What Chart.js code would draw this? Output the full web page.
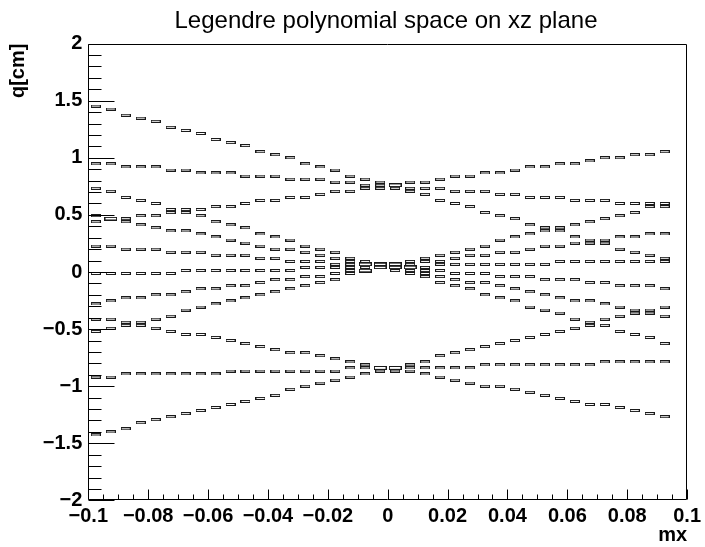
<!DOCTYPE html>
<html>
<head>
<meta charset="utf-8">
<script src="https://cdn.jsdelivr.net/npm/chart.js@4.4.1/dist/chart.umd.min.js"></script>
<style>
html,body{margin:0;padding:0;background:#fff;}
canvas{display:block;}
</style>
</head>
<body>
<canvas id="c" width="705" height="547" style="width:705px;height:547px"></canvas>
<script>
// ---- data (bin centers in mx, q value of each filled bin, one array per trace) ----
const mxBins = [-0.0975,-0.0925,-0.0875,-0.0825,-0.0775,-0.0725,-0.0675,-0.0625,-0.0575,-0.0525,
  -0.0475,-0.0425,-0.0375,-0.0325,-0.0275,-0.0225,-0.0175,-0.0125,-0.0075,-0.0025,
  0.0025,0.0075,0.0125,0.0175,0.0225,0.0275,0.0325,0.0375,0.0425,0.0475,
  0.0525,0.0575,0.0625,0.0675,0.0725,0.0775,0.0825,0.0875,0.0925];

const qA = [1.453,1.427,1.373,1.347,1.320,1.267,1.240,1.213,1.160,1.133,1.107,1.053,1.027,1.000,0.947,0.920,0.893,0.840,0.813,0.787,0.733,0.707,0.680,0.627,0.600,0.573,0.520,0.493,0.467,0.413,0.387,0.360,0.307,0.280,0.253,0.200,0.173,0.147,0.120];
const qB = [0.947,0.947,0.920,0.920,0.920,0.893,0.893,0.867,0.867,0.867,0.840,0.840,0.840,0.813,0.813,0.813,0.787,0.787,0.760,0.760,0.760,0.733,0.733,0.733,0.707,0.707,0.707,0.680,0.680,0.653,0.653,0.653,0.627,0.627,0.627,0.600,0.600,0.600,0.573];
const qD = [0.440,0.467,0.467,0.493,0.493,0.520,0.547,0.547,0.573,0.573,0.600,0.627,0.627,0.653,0.653,0.680,0.707,0.707,0.733,0.733,0.760,0.787,0.787,0.813,0.840,0.840,0.867,0.867,0.893,0.920,0.920,0.947,0.947,0.973,1.000,1.000,1.027,1.027,1.053];
const qC = [0.733,0.707,0.653,0.627,0.600,0.547,0.520,0.493,0.440,0.413,0.387,0.333,0.307,0.280,0.227,0.200,0.173,0.120,0.093,0.067,0.013,-0.013,-0.040,-0.093,-0.120,-0.147,-0.200,-0.227,-0.253,-0.307,-0.333,-0.360,-0.413,-0.440,-0.467,-0.520,-0.547,-0.573,-0.627];
const qE = [0.493,0.467,0.440,0.413,0.387,0.360,0.360,0.333,0.307,0.280,0.253,0.227,0.200,0.200,0.173,0.147,0.120,0.093,0.067,0.067,0.040,0.013,-0.013,-0.040,-0.067,-0.093,-0.093,-0.120,-0.147,-0.173,-0.200,-0.227,-0.253,-0.253,-0.280,-0.307,-0.333,-0.360,-0.387];
const qF = [0.227,0.227,0.200,0.200,0.200,0.173,0.173,0.173,0.147,0.147,0.147,0.120,0.120,0.093,0.093,0.093,0.067,0.067,0.067,0.067,0.040,0.040,0.013,0.013,-0.013,-0.013,-0.013,-0.040,-0.040,-0.040,-0.067,-0.067,-0.067,-0.093,-0.093,-0.120,-0.120,-0.120,-0.147];
const qG = [-0.013,-0.013,-0.013,-0.013,-0.013,-0.013,0.013,0.013,0.013,0.013,0.013,0.013,0.013,0.013,0.040,0.040,0.040,0.040,0.040,0.040,0.040,0.040,0.040,0.067,0.067,0.067,0.067,0.067,0.067,0.067,0.067,0.093,0.093,0.093,0.093,0.093,0.093,0.093,0.093];
const qH = [-0.280,-0.253,-0.227,-0.227,-0.200,-0.200,-0.173,-0.147,-0.147,-0.120,-0.120,-0.093,-0.067,-0.067,-0.040,-0.040,-0.013,0.013,0.013,0.040,0.067,0.067,0.093,0.093,0.120,0.147,0.147,0.173,0.173,0.200,0.227,0.227,0.253,0.253,0.280,0.307,0.307,0.333,0.333];
const qI = [-0.520,-0.493,-0.467,-0.440,-0.413,-0.387,-0.333,-0.307,-0.280,-0.253,-0.227,-0.200,-0.173,-0.147,-0.120,-0.093,-0.067,-0.013,0.013,0.040,0.067,0.093,0.120,0.147,0.173,0.200,0.227,0.280,0.307,0.333,0.360,0.387,0.413,0.440,0.467,0.493,0.520,0.573,0.600];
const qJ = [-0.413,-0.413,-0.440,-0.467,-0.493,-0.520,-0.547,-0.547,-0.573,-0.600,-0.627,-0.653,-0.680,-0.707,-0.707,-0.733,-0.760,-0.787,-0.813,-0.840,-0.867,-0.867,-0.893,-0.920,-0.947,-0.973,-1.000,-1.000,-1.027,-1.053,-1.080,-1.107,-1.133,-1.160,-1.160,-1.187,-1.213,-1.240,-1.267];
const qK = [-0.920,-0.920,-0.893,-0.893,-0.893,-0.893,-0.893,-0.893,-0.893,-0.867,-0.867,-0.867,-0.867,-0.867,-0.867,-0.867,-0.867,-0.840,-0.840,-0.840,-0.840,-0.840,-0.840,-0.840,-0.840,-0.840,-0.813,-0.813,-0.813,-0.813,-0.813,-0.813,-0.813,-0.813,-0.787,-0.787,-0.787,-0.787,-0.787];
const qL = [-1.427,-1.400,-1.373,-1.320,-1.293,-1.267,-1.240,-1.213,-1.187,-1.160,-1.133,-1.107,-1.080,-1.027,-1.000,-0.973,-0.947,-0.920,-0.893,-0.867,-0.840,-0.813,-0.787,-0.733,-0.707,-0.680,-0.653,-0.627,-0.600,-0.573,-0.547,-0.520,-0.493,-0.467,-0.413,-0.387,-0.360,-0.333,-0.307];

const xTicks = [-0.1,-0.08,-0.06,-0.04,-0.02,0,0.02,0.04,0.06,0.08,0.1];
const yTicks = [-2,-1.5,-1,-0.5,0,0.5,1,1.5,2];
const titleText = 'Legendre polynomial space on xz plane';
const xTitle = 'mx';
const yTitle = 'q[cm]';

// ---- rendering ----
const traces = [qA,qB,qD,qC,qE,qF,qG,qH,qI,qJ,qK,qL];
const FONT = '"Liberation Sans", Arial, Helvetica, sans-serif';

function boxImg(w,h){
  const c=document.createElement('canvas'); c.width=w; c.height=h;
  const g=c.getContext('2d'); g.strokeStyle='#1a1a1a'; g.lineWidth=1;
  g.strokeRect(0.5,0.5,w-1,h-1); return c;
}
const smallBox = boxImg(10,3), bigBox = boxImg(13,4);
const counts = {};
traces.forEach(t => t.forEach((q,i) => { const k = mxBins[i]+'|'+q; counts[k] = (counts[k]||0)+1; }));

const datasets = traces.map(t => ({
  data: t.map((q,i) => ({x: mxBins[i], y: q})),
  showLine: false,
  pointRadius: 3,
  pointStyle: ctx => { const p = ctx.raw; return (p && counts[p.x+'|'+p.y] > 1) ? bigBox : smallBox; }
}));

function fmt(v, d){
  const r = Math.round(v*d)/d;
  if (Math.abs(r) < 1e-9) return '0';
  return (r < 0 ? '\u2212' : '') + String(Math.abs(r));
}

const decor = {
  id: 'decor',
  afterDraw(chart){
    const {ctx, chartArea:a, scales:{x, y}} = chart;
    ctx.save();
    ctx.strokeStyle = '#000'; ctx.lineWidth = 1;
    const L = Math.round(a.left)+0.5, R = Math.round(a.right)-0.5, T = Math.round(a.top)+0.5, B = Math.round(a.bottom)-0.5;
    ctx.beginPath();
    ctx.rect(L, T, R-L, B-T);
    for (let i=0;i<=40;i++){
      const v = -2 + i*0.1;
      const py = Math.round(y.getPixelForValue(v))+0.5;
      const len = (i%5===0) ? 26 : 13;
      ctx.moveTo(L, py); ctx.lineTo(L+len, py);
    }
    for (let i=0;i<=40;i++){
      const v = -0.1 + i*0.005;
      const px = Math.round(x.getPixelForValue(v))+0.5;
      const len = (i%4===0) ? 10 : 5;
      ctx.moveTo(px, B); ctx.lineTo(px, B-len);
    }
    ctx.stroke();
    ctx.fillStyle = '#000';
    ctx.font = '24px ' + FONT;
    ctx.textAlign = 'center'; ctx.textBaseline = 'alphabetic';
    ctx.fillText(titleText, 386, 28);
    ctx.restore();
  }
};

new Chart(document.getElementById('c'), {
  type: 'scatter',
  data: { datasets },
  plugins: [decor],
  options: {
    responsive: false,
    animation: false,
    events: [],
    layout: { padding: { left: 0, right: 13.3, top: 43.6, bottom: 0 } },
    plugins: { legend: {display:false}, tooltip: {enabled:false}, title: {display:false} },
    scales: {
      x: {
        type: 'linear', min: -0.1, max: 0.1,
        afterBuildTicks: s => { s.ticks = xTicks.map(v => ({value: v})); },
        afterFit: s => { s.height = 46.6; },
        grid: { display: false, drawTicks: false },
        border: { display: false },
        ticks: { autoSkip: false, maxRotation: 0, padding: 4, color: '#000',
                 font: { family: FONT, size: 20, weight: 'bold' },
                 callback: v => fmt(v, 1000) },
        title: { display: true, text: xTitle, align: 'end', color: '#000',
                 font: { family: FONT, size: 20, weight: 'bold' }, padding: { top: 0, bottom: 0 } }
      },
      y: {
        type: 'linear', min: -2, max: 2,
        afterBuildTicks: s => { s.ticks = yTicks.map(v => ({value: v})); },
        afterFit: s => { s.width = 88.3; },
        grid: { display: false, drawTicks: false },
        border: { display: false },
        ticks: { autoSkip: false, padding: 6, color: '#000',
                 font: { family: FONT, size: 20, weight: 'bold' },
                 callback: v => fmt(v, 10) },
        title: { display: true, text: yTitle, align: 'end', color: '#000',
                 font: { family: FONT, size: 20, weight: 'bold' }, padding: { top: 6, bottom: 0 } }
      }
    }
  }
});
</script>
</body>
</html>
